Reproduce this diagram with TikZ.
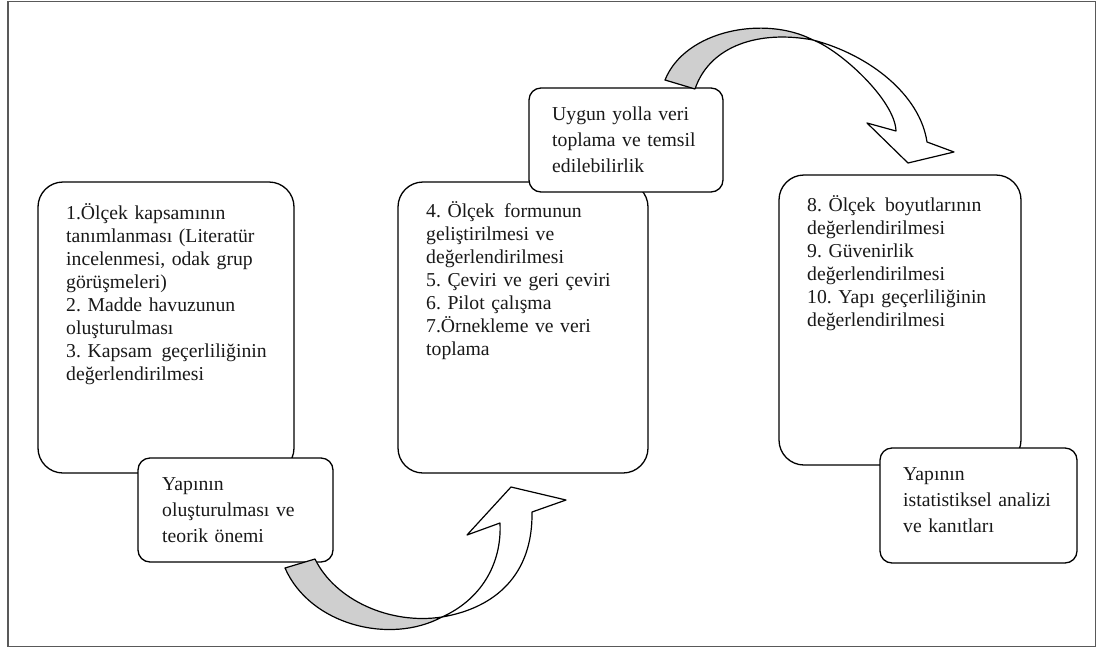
\documentclass[tikz,border=0pt]{standalone}
\usepackage{fontspec}
\setmainfont{Liberation Serif}
\frenchspacing
\begin{document}
\begin{tikzpicture}[x=1pt,y=-1pt,
  bigbox/.style={draw=black,line width=1.3pt,fill=white,rounded corners=25pt,inner sep=0pt},
  smallbox/.style={draw=black,line width=1.3pt,fill=white,rounded corners=12pt,inner sep=0pt},
  txt/.style={anchor=north west,inner sep=0pt,text width=240pt,align=left,text=black!90},
  tA/.style={txt,font=\fontsize{19.7}{23}\selectfont},
  tB/.style={txt,font=\fontsize{19.7}{26}\selectfont},
  backside/.style={draw=black,line width=1.2pt,fill=black!19,line join=round},
  frontside/.style={draw=black,line width=1.2pt,fill=white,line join=round}]
\useasboundingbox (0,0) rectangle (1097,651);
\draw[draw=black!65,line width=1.6pt] (8,1.5) rectangle (1095.5,646.5);

% left pair
\node[bigbox,minimum width=256pt,minimum height=291pt] (A) at (166,327.5) {};
\node[tA] (At) at (66,201) {\rule{0pt}{18pt}1.Ölçek kapsamının\\tanımlanması (Literatür\\incelenmesi, odak grup\\görüşmeleri)\\2. Madde havuzunun\\oluşturulması\\3. Kapsam\hspace{3pt} geçerliliğinin\\değerlendirilmesi};
\node[smallbox,minimum width=195pt,minimum height=104pt] (A2) at (235.5,510) {};
\node[tB] (A2t) at (162,472) {\rule{0pt}{18pt}Yapının\\oluşturulması ve\\teorik önemi};

% middle pair
\node[bigbox,minimum width=250pt,minimum height=291pt] (B) at (523,327.5) {};
\node[tA] (Bt) at (426,199) {\rule{0pt}{18pt}4. Ölçek\hspace{3pt} formunun\\geliştirilmesi ve\\değerlendirilmesi\\5. Çeviri ve geri çeviri\\6. Pilot çalışma\\7.Örnekleme ve veri\\toplama};
\node[smallbox,minimum width=194pt,minimum height=104pt] (B2) at (626,140) {};
\node[tB] (B2t) at (552,102) {\rule{0pt}{18pt}Uygun yolla veri\\toplama ve temsil\\edilebilirlik};

% right pair
\node[bigbox,minimum width=242pt,minimum height=290pt] (C) at (900,320) {};
\node[tA] (Ct) at (807,193) {\rule{0pt}{18pt}8. Ölçek\hspace{3pt} boyutlarının\\değerlendirilmesi\\9. Güvenirlik\\değerlendirilmesi\\10. Yapı geçerliliğinin\\değerlendirilmesi};
\node[smallbox,minimum width=197pt,minimum height=115pt] (C2) at (978.5,505.5) {};
\node[tB] (C2t) at (903,462) {\rule{0pt}{18pt}Yapının\\istatistiksel analizi\\ve kanıtları};

% bottom curved arrow
\coordinate (bx) at (442,617);
\draw[backside] (285,568) .. controls (310,625) and (390,645) .. (bx)
  .. controls (390,625) and (335,600) .. (315,559) -- cycle;
\draw[frontside] (bx) .. controls (495,608) and (533,575) .. (532,512)
  -- (566,500) -- (511,487) -- (467,535) -- (500,523)
  .. controls (502,565) and (480,600) .. (bx) -- cycle;

% top curved arrow
\coordinate (tx) at (813,40);
\draw[backside] (665,80) .. controls (685,30) and (765,15) .. (tx)
  .. controls (760,30) and (710,45) .. (695,89) -- cycle;
\draw[frontside] (tx) .. controls (870,55) and (920,95) .. (927,142)
  -- (954,152) -- (908,163) -- (867,123) -- (896,131)
  .. controls (895,100) and (840,50) .. (tx) -- cycle;
\end{tikzpicture}
\end{document}
